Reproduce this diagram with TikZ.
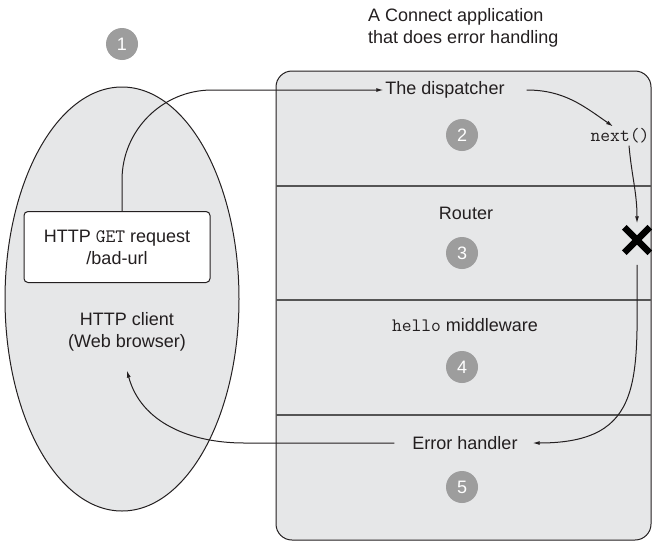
\documentclass[tikz,border=0pt]{standalone}
\usepackage{fontspec}
\setmainfont{Liberation Sans}
\usepackage{xcolor}
\usetikzlibrary{positioning, arrows.meta, shapes.misc}

\definecolor{panel}{HTML}{E6E7E8}
\definecolor{badge}{HTML}{9D9D9D}
\definecolor{ink}{HTML}{231F20}
\definecolor{rule}{HTML}{555555}

\newcommand{\code}[1]{{\fontsize{19}{20}\selectfont\ttfamily #1}}

\begin{document}
\begin{tikzpicture}[x=1pt, y=-1pt,
  lbl/.style={font=\fontsize{18}{22}\selectfont, text=ink, align=center, inner sep=2pt},
  num/.style={circle, fill=badge, text=white, minimum size=32pt, inner sep=0pt,
              font=\fontsize{18}{18}\selectfont},
  reqbox/.style={draw=ink, fill=white, rounded corners=4pt, minimum width=186pt,
                 minimum height=71pt, line width=1pt},
  arr/.style={-{Latex[length=7pt, width=4pt]}, line width=1pt, draw=ink}
]
  \useasboundingbox (0,0) rectangle (652,541);

  % application panel with its layers
  \draw[ink, line width=1pt, fill=panel, rounded corners=16pt] (276,71) rectangle (651,540);
  \draw[rule, line width=1.2pt] (276,186) -- (651,186);
  \draw[rule, line width=1.2pt] (276,300) -- (651,300);
  \draw[rule, line width=1.2pt] (276,415) -- (651,415);

  % the client
  \draw[ink, line width=1pt, fill=panel] (122,299) ellipse [x radius=117pt, y radius=212pt];

  \node[num] (n1) at (122,44) {1};
  \node[reqbox, lbl] (req) at (117,247) {HTTP \code{GET} request\\/bad-url};
  \node[lbl] (client) at (127,332) {HTTP client\\(Web browser)};

  \node[lbl, align=left, anchor=west] (title) at (366,28)
    {A Connect application\\that does error handling};

  \node[lbl] (disp)   at (445,90)  {The dispatcher};
  \node[num] (n2)     at (462,135) {2};
  \node[lbl] (router) at (466,213) {Router};
  \node[num] (n3)     at (462,253) {3};
  \node[lbl] (hello)  at (465,325) {\code{hello} middleware};
  \node[num] (n4)     at (462,367) {4};
  \node[lbl] (err)    at (465,443) {Error handler};
  \node[num] (n5)     at (462,487) {5};
  \node[lbl] (next)   at (620,136) {\code{next()}};
  \node[cross out, draw=black, line width=6.5pt, minimum size=19pt, inner sep=0pt]
    (stop) at (637,240) {};

  \draw[arr, rounded corners=90pt] ([xshift=5pt]req.north) |- (disp.west);
  \draw[arr] ([xshift=20pt]disp.east) to[out=0, in=145] ([xshift=-7pt]next.north);
  \draw[arr] ([xshift=9pt]next.south) to[out=-85, in=90] ([yshift=4pt]stop.north);
  \draw[arr] ([yshift=-12pt]stop.south) to[out=-90, in=0, looseness=1.4]
    ([xshift=13pt]err.east);
  \draw[arr] ([xshift=-16pt]err.west) -- ++(-150,0)
    to[out=180, in=-75] ([yshift=-17pt]client.south);
\end{tikzpicture}
\end{document}
